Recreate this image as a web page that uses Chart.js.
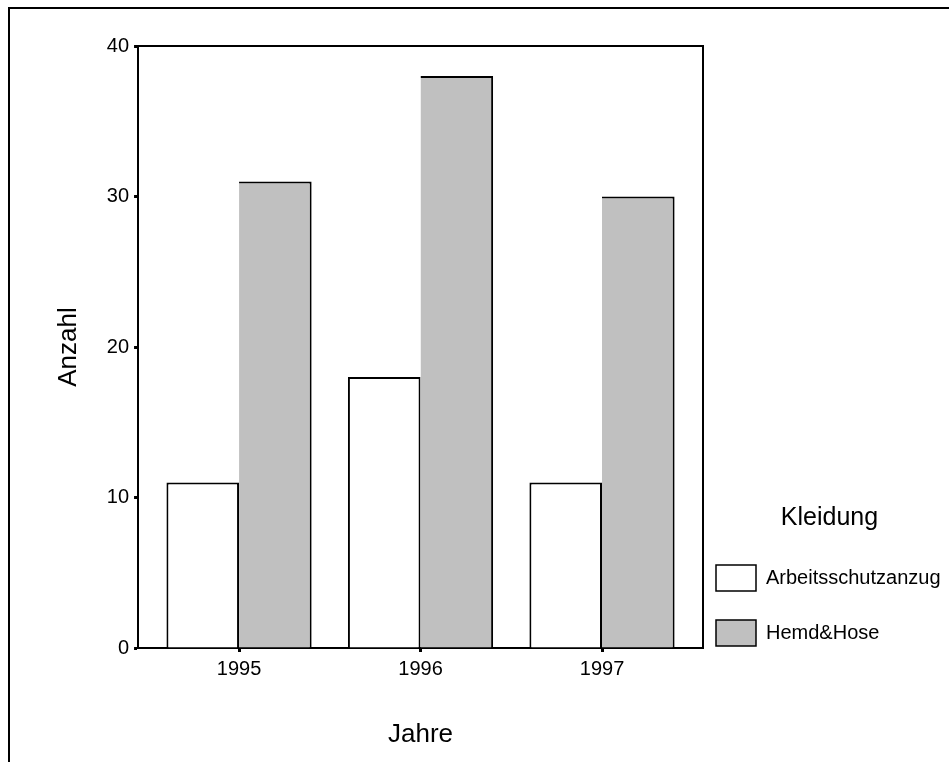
<!DOCTYPE html>
<html><head><meta charset="utf-8">
<script src="https://cdn.jsdelivr.net/npm/chart.js@4/dist/chart.umd.min.js"></script>
<style>
html,body{margin:0;padding:0;background:#fff;overflow:hidden;}
#wrap{position:relative;width:949px;height:762px;overflow:hidden;}
#frame{position:absolute;left:8px;top:7px;width:1000px;height:1000px;border:2px solid #000;box-sizing:border-box;pointer-events:none;}
canvas{position:absolute;left:0;top:0;}
</style></head><body>
<div id="wrap"><div id="frame"></div><canvas id="c" width="949" height="762"></canvas></div>
<script>
// ---- data ----
const categories = ['1995', '1996', '1997'];
const years = [1995, 1996, 1997];
const seriesNames = ['Arbeitsschutzanzug', 'Hemd&Hose'];
const arbeitsschutzanzug = [11, 18, 11];
const hemdHose = [31, 38, 30];
const yTicks = [0, 10, 20, 30, 40];
const xTitle = 'Jahre';
const yTitle = 'Anzahl';
const legendTitle = 'Kleidung';

Chart.defaults.font.family = '"Liberation Sans", Arial, sans-serif';
Chart.defaults.color = '#000';

const legendShift = {
  id: 'legendShift',
  afterLayout(chart) {
    const lg = chart.legend;
    lg.left = 687; lg.width = 285; lg.right = lg.left + lg.width;
  }
};

const toPoints = vals => vals.map((v, i) => ({x: years[i], y: v}));

new Chart(document.getElementById('c'), {
  type: 'bar',
  data: {
    datasets: [
      {label: seriesNames[0], data: toPoints(arbeitsschutzanzug), backgroundColor: '#ffffff', borderColor: '#000',
       borderWidth: {top: 2, left: 2, right: 2, bottom: 0}, borderSkipped: false},
      {label: seriesNames[1], data: toPoints(hemdHose), backgroundColor: '#c0c0c0', borderColor: '#000',
       borderWidth: {top: 2, left: 0, right: 2, bottom: 0}, borderSkipped: false}
    ]
  },
  options: {
    responsive: false,
    animation: false,
    categoryPercentage: 0.8,
    barPercentage: 1.0,
    layout: {padding: {top: 46, left: 0, right: 0, bottom: 0}},
    plugins: {
      tooltip: {enabled: false},
      legend: {
        position: 'right', align: 'start', fullSize: true, maxWidth: 246,
        title: {display: true, text: legendTitle, font: {size: 25}, padding: {top: 459.5, bottom: 0.5}},
        labels: {
          boxWidth: 40, boxHeight: 26, padding: 29, font: {size: 20},
          generateLabels: chart => Chart.defaults.plugins.legend.labels.generateLabels(chart)
            .map(l => Object.assign(l, {lineWidth: 1.5, strokeStyle: '#000'}))
        }
      }
    },
    scales: {
      x: {
        type: 'linear', position: 'bottom', offset: false,
        min: years[0] - 0.5565, max: years[years.length - 1] + 0.5565,
        afterBuildTicks: s => { s.ticks = years.map(v => ({value: v})); },
        grid: {display: true, offset: false, drawOnChartArea: false, drawTicks: true, tickLength: 4, tickWidth: 3, tickColor: '#000'},
        border: {display: true, color: '#000', width: 2},
        ticks: {padding: 5, font: {size: 20}, maxRotation: 0, autoSkip: false, callback: (v, i) => categories[i]},
        title: {display: true, text: xTitle, font: {size: 26}, padding: {top: 33.4, bottom: 11.4}}
      },
      y: {
        type: 'linear', position: 'left', min: 0, max: 40,
        afterBuildTicks: s => { s.ticks = yTicks.map(v => ({value: v})); },
        grid: {display: true, drawOnChartArea: false, drawTicks: true, tickLength: 4, tickWidth: 3, tickColor: '#000'},
        border: {display: true, color: '#000', width: 2},
        ticks: {padding: 5, font: {size: 20}},
        title: {display: true, text: yTitle, font: {size: 26}, padding: {top: 53.4, bottom: 17.2}}
      },
      x2: {
        type: 'linear', position: 'top', display: true, min: 0, max: 1,
        grid: {display: false, drawTicks: false, tickLength: 0}, ticks: {display: false, padding: 0},
        border: {display: true, color: '#000', width: 2}
      },
      y2: {
        type: 'linear', position: 'right', display: true, min: 0, max: 1,
        grid: {display: false, drawTicks: false, tickLength: 0}, ticks: {display: false, padding: 0},
        border: {display: true, color: '#000', width: 2}
      }
    }
  },
  plugins: [legendShift]
});
</script>
</body></html>
